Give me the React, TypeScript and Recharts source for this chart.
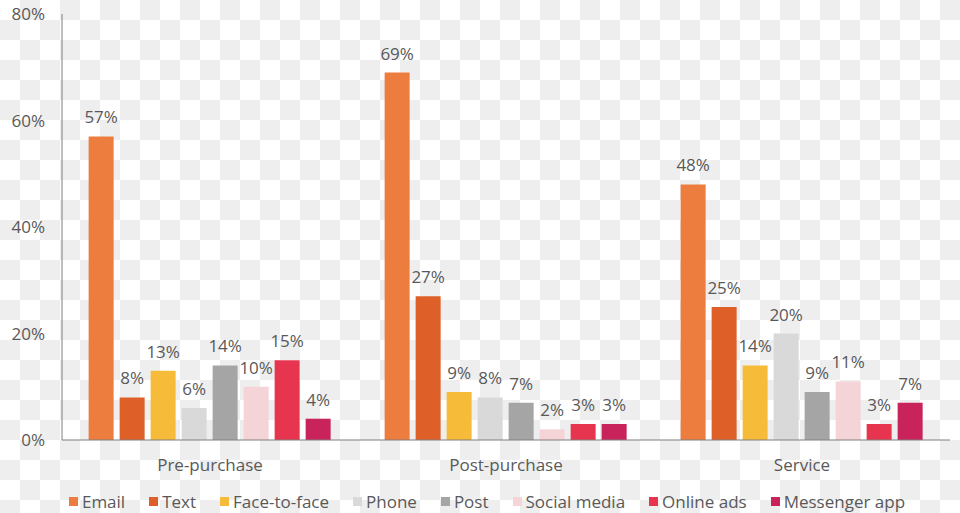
import React from "react";
import {
  Bar,
  BarChart,
  LabelList,
  Legend,
  XAxis,
  YAxis,
} from "recharts";

const stages = ["Pre-purchase", "Post-purchase", "Service"];
const channels = [
  "Email",
  "Text",
  "Face-to-face",
  "Phone",
  "Post",
  "Social media",
  "Online ads",
  "Messenger app",
];
const colors = [
  "#ED7D3F",
  "#DF5F28",
  "#F6BC39",
  "#D9D9D9",
  "#A5A5A5",
  "#F4D4D6",
  "#E8354F",
  "#C8235A",
];
const preValues = [57, 8, 13, 6, 14, 10, 15, 4];
const postValues = [69, 27, 9, 8, 7, 2, 3, 3];
const serviceValues = [48, 25, 14, 20, 9, 11, 3, 7];
const yTicks = [0, 20, 40, 60, 80];

const seriesByStage = [preValues, postValues, serviceValues];
const data = stages.map((stage, i) => {
  const row: Record<string, string | number> = { stage };
  channels.forEach((c, j) => {
    row[c] = seriesByStage[i][j];
  });
  return row;
});

const grey = "#595959";
const font = "'Open Sans', sans-serif";

function LegendRow() {
  return (
    <div
      style={{
        display: "flex",
        justifyContent: "center",
        gap: 24,
        fontFamily: font,
        fontSize: 17,
        color: grey,
        paddingTop: 10,
        paddingLeft: 24,
      }}
    >
      {channels.map((c, i) => (
        <span key={c} style={{ display: "flex", alignItems: "center" }}>
          <span
            style={{
              width: 9,
              height: 9,
              background: colors[i],
              display: "inline-block",
              marginRight: 4,
            }}
          />
          {c}
        </span>
      ))}
    </div>
  );
}

export default function App() {
  return (
    <div
      style={{
        width: 960,
        height: 513,
        backgroundImage:
          "conic-gradient(#eee 0 25%, #fff 0 50%, #eee 0 75%, #fff 0)",
        backgroundSize: "40px 40px",
      }}
    >
      <style>{`body{margin:0}`}</style>
      <BarChart
        width={960}
        height={513}
        data={data}
        margin={{ top: 14, right: 10, bottom: 0, left: 0 }}
        barCategoryGap="9%"
        barGap={6}
      >
        <XAxis
          dataKey="stage"
          axisLine={{ stroke: "#7f7f7f" }}
          tickLine={false}
          tickSize={0}
          tickMargin={19}
          height={40}
          tick={{ fill: grey, fontSize: 17, fontFamily: font }}
        />
        <YAxis
          domain={[0, 80]}
          ticks={yTicks}
          width={62}
          axisLine={{ stroke: "#7f7f7f" }}
          tickLine={false}
          tickSize={0}
          tickMargin={17}
          tickFormatter={(v) => `${v}%`}
          tick={{ fill: grey, fontSize: 17, fontFamily: font }}
        />
        <Legend
          verticalAlign="bottom"
          height={33}
          content={() => <LegendRow />}
        />
        {channels.map((c, i) => (
          <Bar
            key={c}
            dataKey={c}
            fill={colors[i]}
            isAnimationActive={false}
          >
            <LabelList
              dataKey={c}
              position="top"
              offset={13}
              formatter={(v: number) => `${v}%`}
              style={{ fill: grey, fontSize: 17, fontFamily: font }}
            />
          </Bar>
        ))}
      </BarChart>
    </div>
  );
}
